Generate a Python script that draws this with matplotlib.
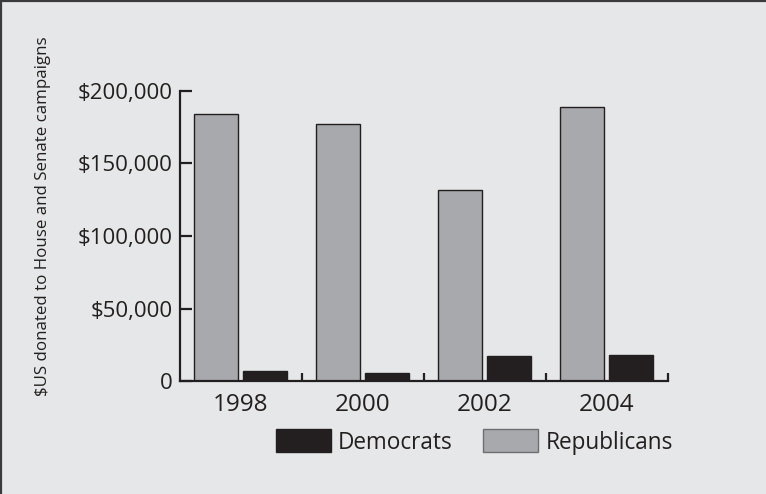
import matplotlib
matplotlib.use("Agg")
import matplotlib.pyplot as plt
from matplotlib.patches import Patch
from matplotlib.lines import Line2D
import numpy as np

years = ["1998", "2000", "2002", "2004"]
republicans = [184000, 177000, 132000, 189000]
democrats = [7000, 5200, 17200, 18100]
ytick_values = [0, 50000, 100000, 150000, 200000]
ytick_labels = ["0", "$50,000", "$100,000", "$150,000", "$200,000"]
ylabel = "$US donated to House and Senate campaigns"

BG = "#e6e7e8"
GRAY = "#a7a9ac"
DARK = "#231f20"

plt.rcParams["font.family"] = ["Open Sans", "DejaVu Sans"]
plt.rcParams["text.color"] = DARK

W, H = 766, 494
fig = plt.figure(figsize=(W / 100, H / 100), dpi=100, facecolor=BG)
ax = fig.add_axes([180 / W, 1 - 381 / H, (668 - 180) / W, (381 - 91) / H])
ax.set_facecolor(BG)

x = np.arange(len(years))
bw = 0.36
ax.bar(x + 0.295, republicans, width=bw, color=GRAY, edgecolor=DARK, linewidth=1.0, zorder=2)
ax.bar(x + 0.697, democrats, width=bw, color=DARK, edgecolor=DARK, linewidth=1.0, zorder=2)

ax.set_xlim(0, len(years))
ax.set_ylim(0, 200000)

for s in ["top", "right"]:
    ax.spines[s].set_visible(False)
for s in ["left", "bottom"]:
    ax.spines[s].set_linewidth(1.6)
    ax.spines[s].set_color(DARK)

ax.set_yticks(ytick_values)
ax.set_yticklabels(ytick_labels)
ax.tick_params(axis="y", direction="in", length=8.6, width=1.6, color=DARK,
               pad=5.5, labelsize=16, labelcolor=DARK)

ax.set_xticks(x + 0.5)
ax.set_xticklabels(years)
ax.tick_params(axis="x", which="major", length=0, pad=8.5, labelsize=17.5, labelcolor=DARK)
ax.set_xticks(np.arange(1, len(years) + 1), minor=True)
ax.tick_params(axis="x", which="minor", direction="in", length=5.8, width=1.6, color=DARK)

fig.text(43 / W, 1 - 216 / H, ylabel, rotation=90, ha="center", va="center",
         fontsize=12.2, color=DARK)

handles = [Patch(facecolor=DARK, edgecolor=DARK, linewidth=1.0),
           Patch(facecolor=GRAY, edgecolor="#6d6e71", linewidth=1.0)]
fig.legend(handles, ["Democrats", "Republicans"], loc="center left",
           bbox_to_anchor=(275.5 / W, 1 - 442 / H), ncol=2, frameon=False,
           fontsize=16.3, handlelength=2.43, handleheight=1.19, handletextpad=0.31,
           columnspacing=1.37, borderpad=0, borderaxespad=0)

# figure border (top and left)
fig.add_artist(Line2D([1.5 / W, 1.5 / W], [0, 1 - 1 / H], color="#3b3b3d", linewidth=1.6,
                      transform=fig.transFigure))
fig.add_artist(Line2D([0, 1], [1 - 1 / H, 1 - 1 / H], color="#3b3b3d", linewidth=1.6,
                      transform=fig.transFigure))

fig.savefig("out.png", dpi=100, facecolor=BG)
